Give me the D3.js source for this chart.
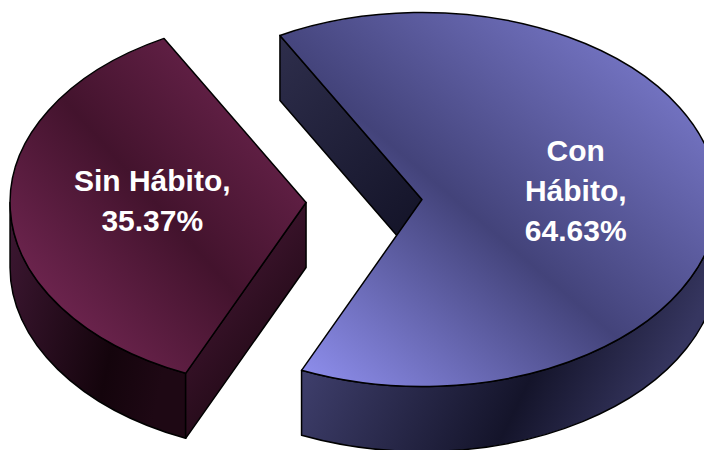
<!DOCTYPE html>
<html>
<head>
<meta charset="utf-8">
<script src="https://cdn.jsdelivr.net/npm/d3@7"></script>
<style>
  body { margin: 0; background: #fff; }
  svg { display: block; }
</style>
</head>
<body>
<div id="chart"></div>
<script>
// data
var categories = ["Sin Hábito", "Con Hábito"];
var values = [35.37, 64.63];
var wrapName = [false, true];

var width = 704, height = 450;

var svg = d3.select("#chart")
    .append("svg")
    .attr("width", width)
    .attr("height", height);

// 3d pie geometry
var cx = 364, cy = 201,
    rx = 296, ry = 187,
    depth = 65,
    explode = 58,
    labelK = 0.52;

var rad = Math.PI / 180;

// first slice starts at about 7 o'clock, going clockwise
var pie = d3.pie()
    .sort(null)
    .startAngle(204 * rad)
    .endAngle(204 * rad + 2 * Math.PI);

var arcs = pie(values);

// colours for top gradient, outer wall and cut face
var palette = [
  {light: "#822d5f", dark: "#43132d", light2: "#782957",
   wall: ["#3d1732", "#14040c", "#1e0814"], face: ["#4f1c3c", "#1a0610"]},
  {light: "#9595f7", dark: "#43437a", light2: "#8686de",
   wall: ["#4e4e84", "#14142a", "#363660"], face: ["#2e2e4c", "#15152a"]}
];

var defs = svg.append("defs");

palette.forEach(function(p, i) {
  var g = defs.append("linearGradient")
      .attr("id", "top" + i)
      .attr("x1", 0).attr("y1", 1).attr("x2", 1).attr("y2", 0);
  g.append("stop").attr("offset", 0).attr("stop-color", p.light);
  g.append("stop").attr("offset", i == 0 ? 0.5 : 0.45).attr("stop-color", p.dark);
  g.append("stop").attr("offset", 1).attr("stop-color", p.light2);

  var w = defs.append("linearGradient")
      .attr("id", "wall" + i)
      .attr("x1", 0).attr("y1", 0).attr("x2", 1).attr("y2", 0.3);
  w.append("stop").attr("offset", 0).attr("stop-color", p.wall[0]);
  w.append("stop").attr("offset", 0.7).attr("stop-color", p.wall[1]);
  w.append("stop").attr("offset", 1).attr("stop-color", p.wall[2]);

  var f = defs.append("linearGradient")
      .attr("id", "face" + i)
      .attr("x1", 0).attr("y1", 0).attr("x2", 0.6).attr("y2", 1);
  f.append("stop").attr("offset", 0).attr("stop-color", p.face[0]);
  f.append("stop").attr("offset", 1).attr("stop-color", p.face[1]);
});

// d3 angle (0 = 12 o'clock) -> ellipse parameter (0 = 3 o'clock)
function theta(a) { return a - Math.PI / 2; }

function pt(c, t, dz) {
  return [c[0] + rx * Math.cos(t), c[1] + ry * Math.sin(t) + (dz || 0)];
}

function topPath(c, t0, t1) {
  var p0 = pt(c, t0), p1 = pt(c, t1);
  var large = (t1 - t0) > Math.PI ? 1 : 0;
  return "M" + c + "L" + p0 + "A" + rx + "," + ry + " 0 " + large + " 1 " + p1 + "Z";
}

function wallPath(c, t0, t1) {
  var a = pt(c, t0), b = pt(c, t1), bd = pt(c, t1, depth), ad = pt(c, t0, depth);
  return "M" + a + "A" + rx + "," + ry + " 0 0 1 " + b +
         "L" + bd + "A" + rx + "," + ry + " 0 0 0 " + ad + "Z";
}

function facePath(c, t) {
  var p = pt(c, t);
  return "M" + c + "L" + p + "L" + [p[0], p[1] + depth] +
         "L" + [c[0], c[1] + depth] + "Z";
}

arcs.forEach(function(d, i) {
  var t0 = theta(d.startAngle), t1 = theta(d.endAngle);
  var m = (t0 + t1) / 2;
  var c = [cx + explode * Math.cos(m), cy + explode * ry / rx * Math.sin(m)];
  d.center = c; d.mid = m;

  var g = svg.append("g").attr("class", "slice");

  // outer wall where the rim faces the viewer (sin > 0)
  for (var k = -1; k <= 2; k++) {
    var lo = Math.max(t0, 2 * Math.PI * k),
        hi = Math.min(t1, 2 * Math.PI * k + Math.PI);
    if (hi > lo) {
      g.append("path")
        .attr("d", wallPath(c, lo, hi))
        .attr("fill", "url(#wall" + i + ")")
        .attr("stroke", "#000")
        .attr("stroke-width", 1.5)
        .attr("stroke-linejoin", "round");
    }
  }

  // cut faces
  if (Math.cos(t0) < 0) {
    g.append("path")
      .attr("d", facePath(c, t0))
      .attr("fill", "url(#face" + i + ")")
      .attr("stroke", "#000")
      .attr("stroke-width", 1.5)
      .attr("stroke-linejoin", "round");
  }
  if (Math.cos(t1) > 0) {
    g.append("path")
      .attr("d", facePath(c, t1))
      .attr("fill", "url(#face" + i + ")")
      .attr("stroke", "#000")
      .attr("stroke-width", 1.5)
      .attr("stroke-linejoin", "round");
  }

  // top
  g.append("path")
    .attr("d", topPath(c, t0, t1))
    .attr("fill", "url(#top" + i + ")")
    .attr("stroke", "#000")
    .attr("stroke-width", 1.5)
    .attr("stroke-linejoin", "round");
});

// labels
var pct = d3.format(".2f");
arcs.forEach(function(d, i) {
  var name = categories[i];
  var lines = wrapName[i] ? name.split(" ") : [name];
  lines[lines.length - 1] += ",";
  lines.push(pct(values[i]) + "%");

  var p = [d.center[0] + labelK * rx * Math.cos(d.mid),
           d.center[1] + labelK * ry * Math.sin(d.mid) - 5];
  var n = lines.length;

  svg.append("text")
    .attr("text-anchor", "middle")
    .attr("font-family", "'Liberation Sans', Arial, sans-serif")
    .attr("font-weight", "bold")
    .attr("font-size", "30px")
    .attr("fill", "#fff")
    .selectAll("tspan")
    .data(lines)
    .enter().append("tspan")
      .attr("x", p[0])
      .attr("y", function(l, j) { return p[1] + (j - (n - 1) / 2) * 40 + 10; })
      .text(function(l) { return l; });
});
</script>
</body>
</html>
